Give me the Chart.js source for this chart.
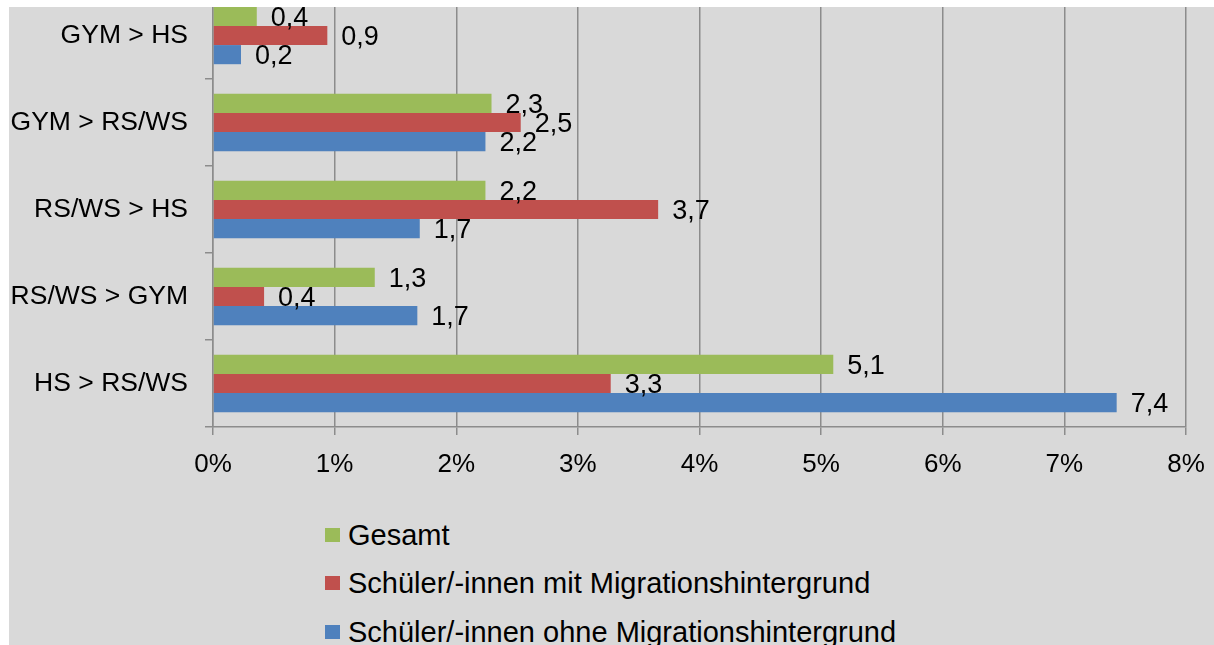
<!DOCTYPE html>
<html>
<head>
<meta charset="utf-8">
<script src="https://cdn.jsdelivr.net/npm/chart.js@4.4.1/dist/chart.umd.min.js"></script>
<style>
  html, body { margin: 0; padding: 0; background: #ffffff; width: 1214px; height: 645px; overflow: hidden; }
  #panel { position: absolute; left: 9px; top: 7px; width: 1205px; height: 638px; background: #d9d9d9; overflow: hidden; }
  #wrap { position: absolute; left: 0; top: -27px; width: 1205px; height: 517px; }
  #legend { position: absolute; left: 316px; top: 0; font-family: "Liberation Sans", Arial, sans-serif; font-size: 29px; color: #000; }
  .item { position: absolute; left: 0; white-space: nowrap; height: 34px; line-height: 34px; }
  .sw { position: absolute; left: 0; top: 10px; width: 15px; height: 14px; }
  .lt { position: absolute; left: 23px; top: 0; }
</style>
</head>
<body>
<div id="panel">
  <div id="wrap"><canvas id="c"></canvas></div>
  <div id="legend"></div>
</div>
<script>
const categories = ["GYM > HS", "GYM > RS/WS", "RS/WS > HS", "RS/WS > GYM", "HS > RS/WS"];
const seriesNames = ["Gesamt", "Schüler/-innen mit Migrationshintergrund", "Schüler/-innen ohne Migrationshintergrund"];
const gesamt = [0.36, 2.29, 2.24, 1.33, 5.10];
const mitMigration = [0.94, 2.53, 3.66, 0.42, 3.27];
const ohneMigration = [0.23, 2.24, 1.70, 1.68, 7.43];
const xTickValues = [0, 1, 2, 3, 4, 5, 6, 7, 8];
const colors = ["#9bbb59", "#c0504d", "#4f81bd"];

const FONT = "'Liberation Sans', Arial, sans-serif";

const valueLabels = {
  id: 'valueLabels',
  afterDatasetsDraw(chart) {
    const ctx = chart.ctx;
    ctx.save();
    ctx.font = "27px " + FONT;
    ctx.fillStyle = "#000";
    ctx.textAlign = "left";
    ctx.textBaseline = "middle";
    chart.data.datasets.forEach((ds, i) => {
      const meta = chart.getDatasetMeta(i);
      meta.data.forEach((el, j) => {
        const v = ds.data[j];
        const txt = v.toFixed(1).replace('.', ',');
        ctx.fillText(txt, el.x + 14, el.y + 2);
      });
    });
    ctx.restore();
  }
};

const datasets = [gesamt, mitMigration, ohneMigration].map((d, i) => ({
  label: seriesNames[i],
  data: d,
  backgroundColor: colors[i],
  borderWidth: 0,
  categoryPercentage: 0.66,
  barPercentage: 1.0
}));

const chart = new Chart(document.getElementById('c'), {
  type: 'bar',
  data: { labels: categories, datasets: datasets },
  options: {
    indexAxis: 'y',
    responsive: true,
    maintainAspectRatio: false,
    animation: false,
    layout: { padding: { top: 12, right: 28, left: 0, bottom: 0 } },
    plugins: { legend: { display: false }, tooltip: { enabled: false } },
    scales: {
      x: {
        type: 'linear',
        min: 0, max: 8,
        afterBuildTicks(scale) { scale.ticks = xTickValues.map(v => ({ value: v })); },
        afterFit(scale) { scale.height = 70; scale.paddingLeft = 0; scale.paddingRight = 0; },
        ticks: {
          color: '#000',
          font: { family: FONT, size: 26 },
          padding: 14,
          callback: v => v + '%'
        },
        grid: { color: '#8c8c8c', lineWidth: 1.5, tickLength: 8, drawTicks: true },
        border: { color: '#8c8c8c', width: 1.5 }
      },
      y: {
        afterFit(scale) { scale.width = 204; scale.paddingTop = 0; scale.paddingBottom = 0; },
        ticks: {
          color: '#000',
          font: { family: FONT, size: 26.5 },
          padding: 17
        },
        grid: { drawOnChartArea: false, color: '#8c8c8c', lineWidth: 1.5, tickLength: 8, offset: true },
        border: { color: '#8c8c8c', width: 1.5 }
      }
    }
  },
  plugins: [valueLabels]
});

// HTML legend built from the chart's datasets
const legendEl = document.getElementById('legend');
const rowCenters = [528, 576, 625]; // relative to panel
chart.data.datasets.forEach((ds, i) => {
  const item = document.createElement('div');
  item.className = 'item';
  item.style.top = (rowCenters[i] - 17) + 'px';
  const sw = document.createElement('span');
  sw.className = 'sw';
  sw.style.background = ds.backgroundColor;
  const t = document.createElement('span');
  t.className = 'lt';
  t.textContent = ds.label;
  item.appendChild(sw);
  item.appendChild(t);
  legendEl.appendChild(item);
});
</script>
</body>
</html>
